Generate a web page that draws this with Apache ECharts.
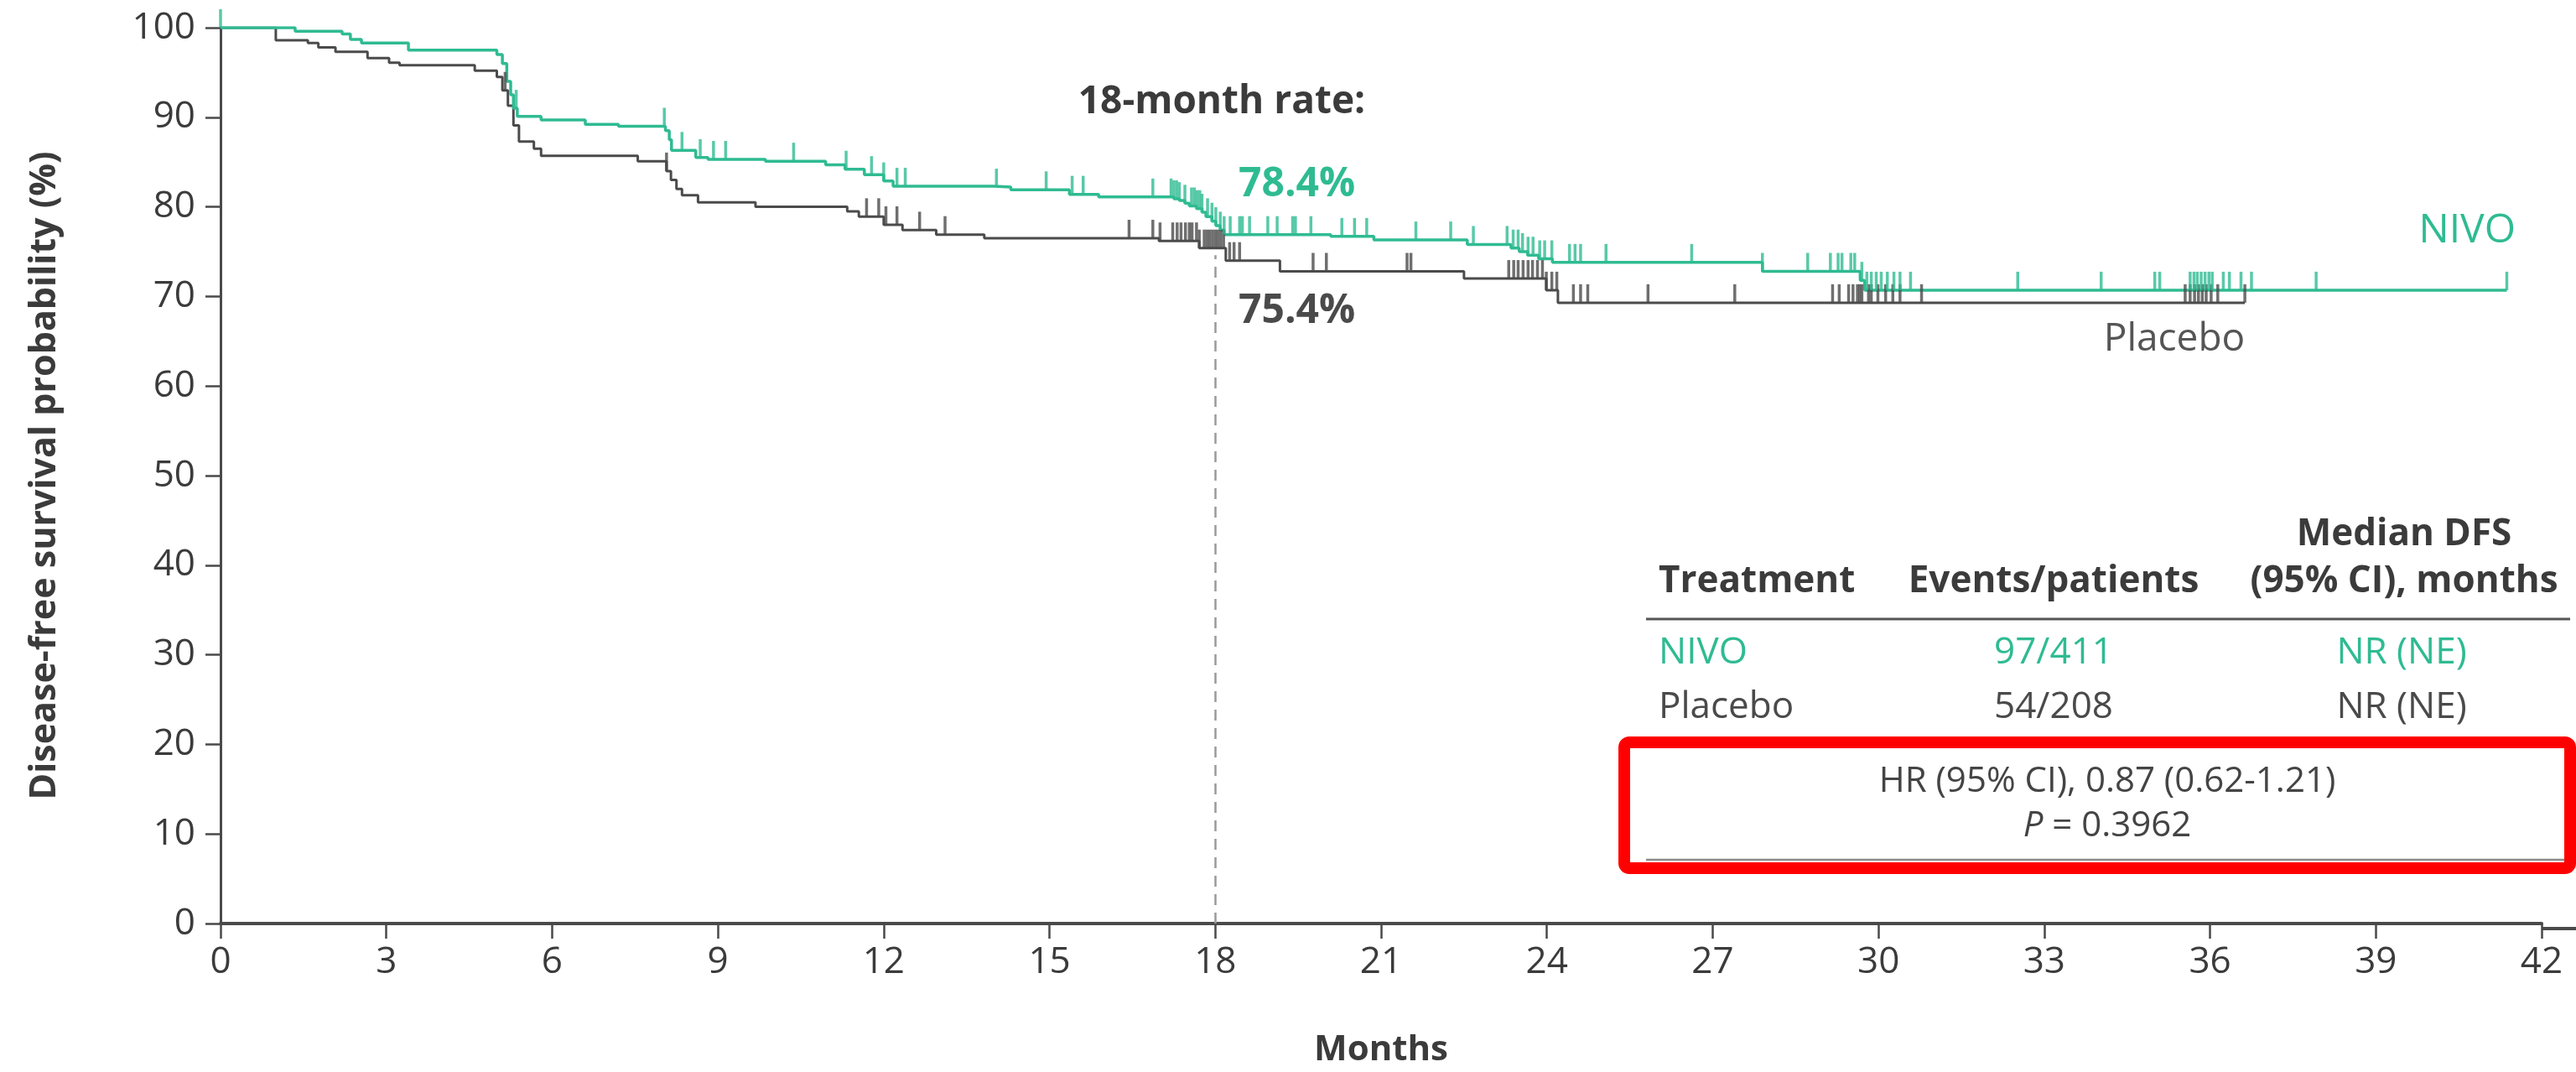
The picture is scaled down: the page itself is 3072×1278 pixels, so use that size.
<!DOCTYPE html>
<html>
<head>
<meta charset="utf-8">
<script src="https://cdn.jsdelivr.net/npm/echarts@6/dist/echarts.min.js"></script>
<style>
html,body{margin:0;padding:0;background:#ffffff;}
#chart{width:3072px;height:1278px;}
</style>
</head>
<body>
<div id="chart"></div>
<script>
// ---------------- DATA ----------------
const xTicks = [0, 3, 6, 9, 12, 15, 18, 21, 24, 27, 30, 33, 36, 39, 42];
const yTicks = [0, 10, 20, 30, 40, 50, 60, 70, 80, 90, 100];

// Kaplan-Meier steps: [month, survival % after the step]
const nivoSteps = [
  [0,100],[1.35,99.6],[2.2,99.3],[2.35,98.7],[2.55,98.3],[3.4,97.5],[5.0,97.0],[5.1,96.0],
  [5.18,94.0],[5.25,92.5],[5.3,91.0],[5.37,90.1],[5.8,89.7],[6.6,89.2],[7.2,89.0],[8.05,88.5],
  [8.12,87.5],[8.16,86.3],[8.6,85.5],[8.82,85.3],[9.86,85.1],[10.95,84.7],[11.3,84.2],[11.65,83.6],
  [12.0,82.9],[12.17,82.3],[14.0,82.2],[14.3,81.9],[15.36,81.4],[15.89,81.1],[17.25,80.9],[17.35,80.7],
  [17.45,80.4],[17.53,80.1],[17.66,79.8],[17.76,79.4],[17.83,78.9],[17.94,78.4],[18.01,77.9],[18.09,77.4],
  [18.16,76.9],[20.09,76.7],[20.87,76.3],[22.56,75.8],[23.35,75.4],[23.5,75.0],[23.65,74.6],[23.85,74.2],
  [24.1,73.8],[27.9,72.8],[29.67,71.8],[29.75,70.7],[41.37,70.7]
];
const placeboSteps = [
  [0,100],[1.0,98.6],[1.58,98.3],[1.77,97.8],[2.08,97.3],[2.66,96.6],[3.05,96.1],[3.24,95.8],
  [4.6,95.2],[5.0,94.5],[5.1,93.0],[5.2,91.3],[5.3,89.1],[5.4,87.3],[5.67,86.5],[5.8,85.7],
  [7.55,85.1],[8.07,84.0],[8.15,83.0],[8.25,82.0],[8.35,81.3],[8.64,80.5],[9.68,80.0],[11.34,79.5],
  [11.55,78.9],[12.0,78.0],[12.34,77.4],[12.95,76.9],[13.82,76.5],[16.98,76.2],[17.71,75.4],[18.19,74.0],
  [19.17,72.8],[22.5,72.0],[23.99,70.7],[24.2,69.3],[36.63,69.3]
];

// censoring times (months)
const nivoCensor = [
  0, 5.35, 8.03, 8.35, 8.68, 8.92, 9.14, 10.37, 11.32, 11.78, 12.0, 12.24, 12.39, 14.04, 14.94,
  15.41, 15.61, 16.87, 17.2, 17.25, 17.3, 17.35, 17.45, 17.57, 17.62, 17.67, 17.72, 17.76, 17.86,
  17.94, 18.01, 18.09, 18.16, 18.27, 18.44, 18.49, 18.62, 18.95, 19.12, 19.4, 19.45, 19.73, 20.29,
  20.52, 20.74, 21.63, 22.26, 22.67, 23.28, 23.39, 23.48, 23.56, 23.66, 23.75, 23.87, 23.96, 24.09,
  24.41, 24.51, 24.61, 25.07, 26.62, 27.9, 28.72, 29.13, 29.27, 29.34, 29.5, 29.57, 29.7, 29.79,
  29.87, 29.96, 30.05, 30.16, 30.28, 30.39, 30.58, 32.52, 34.03, 35.0, 35.09, 35.64, 35.71, 35.77,
  35.84, 35.91, 35.98, 36.04, 36.24, 36.35, 36.56, 36.75, 37.92, 41.37
];
const placeboCensor = [
  5.15, 8.07, 11.69, 11.91, 12.04, 12.24, 12.65, 13.11, 16.44, 16.87, 17.0, 17.23, 17.31, 17.38,
  17.46, 17.53, 17.58, 17.66, 17.71, 17.8, 17.85, 17.9, 17.95, 18.0, 18.05, 18.1, 18.15, 18.26,
  18.34, 18.44, 19.77, 20.01, 21.47, 21.54, 23.31, 23.4, 23.48, 23.57, 23.66, 23.74, 23.83, 23.92,
  23.99, 24.09, 24.18, 24.48, 24.61, 24.74, 25.83, 27.4, 29.17, 29.29, 29.46, 29.54, 29.62, 29.66,
  29.7, 29.82, 29.87, 29.99, 30.13, 30.26, 30.39, 30.78, 35.55, 35.64, 35.72, 35.79, 35.86, 35.93,
  36.02, 36.14, 36.63
];

const seriesNames = ['NIVO', 'Placebo'];
const landmarkMonth = 18;
const landmarkTop = 74.6;
const rate18 = ['78.4%', '75.4%'];
const rateTitle = '18-month rate:';
const tableHeader = ['Treatment', 'Events/patients', 'Median DFS', '(95% CI), months'];
const tableRows = [['NIVO', '97/411', 'NR (NE)'], ['Placebo', '54/208', 'NR (NE)']];
const hrText = 'HR (95% CI), 0.87 (0.62-1.21)';
const pText = '0.3962';

// ---------------- STYLE ----------------
const GREEN = '#2fbb92';
const GREY = '#4b4b4b';
const TXT = '#3b3b3b';
const FONT = "'Open Sans', 'Lato', 'DejaVu Sans', sans-serif";

function survivalAt(steps, t) {
  let v = steps[0][1];
  for (const s of steps) { if (s[0] <= t + 1e-9) v = s[1]; else break; }
  return v;
}

function txt(text, x, y, align, size, weight, color, extra) {
  return Object.assign({
    type: 'text', z: 100,
    style: {
      text: text, x: x, y: y,
      align: align, textAlign: align, verticalAlign: 'middle', textVerticalAlign: 'middle',
      fontSize: size, fontWeight: weight, fontFamily: FONT, fill: color
    }
  }, extra || {});
}
function hline(x1, x2, y, w, color) {
  return { type: 'line', z: 100, shape: { x1: x1, y1: y, x2: x2, y2: y }, style: { stroke: color, lineWidth: w } };
}

const chart = echarts.init(document.getElementById('chart'), null, { renderer: 'canvas' });

const censorSymbol = { symbol: 'rect', symbolSize: [3.5, 22], symbolOffset: [0, -11] };

const option = {
  animation: false,
  backgroundColor: '#ffffff',
  grid: { left: 263, right: 41, top: 33, bottom: 171, containLabel: false },
  xAxis: {
    type: 'value', min: xTicks[0], max: xTicks[xTicks.length - 1], interval: xTicks[1] - xTicks[0],
    name: 'Months', nameLocation: 'middle', nameGap: 130,
    nameTextStyle: { fontFamily: FONT, fontWeight: 'bold', fontSize: 42, color: TXT },
    axisLine: { show: true, onZero: false, lineStyle: { color: '#4a4a4a', width: 4 } },
    axisTick: { show: true, length: 18, lineStyle: { color: '#4a4a4a', width: 2.5 } },
    axisLabel: { fontFamily: FONT, fontSize: 44, color: TXT, margin: 24 },
    splitLine: { show: false }
  },
  yAxis: {
    type: 'value', min: yTicks[0], max: yTicks[yTicks.length - 1], interval: yTicks[1] - yTicks[0],
    name: 'Disease-free survival probability (%)', nameLocation: 'middle', nameGap: 188, nameRotate: 90,
    nameTextStyle: { fontFamily: FONT, fontWeight: 'bold', fontSize: 43, color: TXT },
    axisLine: { show: true, onZero: false, lineStyle: { color: '#4a4a4a', width: 3 } },
    axisTick: { show: true, length: 18, lineStyle: { color: '#4a4a4a', width: 2.5 } },
    axisLabel: { fontFamily: FONT, fontSize: 44, color: TXT, margin: 30 },
    splitLine: { show: false }
  },
  series: [
    {
      name: seriesNames[1], type: 'line', step: 'end', showSymbol: false, z: 3,
      data: placeboSteps, lineStyle: { color: GREY, width: 3 }, itemStyle: { color: GREY },
      markLine: {
        silent: true, symbol: 'none', label: { show: false },
        lineStyle: { type: [13, 9], color: '#9a9a9a', width: 2.5 },
        data: [[{ coord: [landmarkMonth, 0] }, { coord: [landmarkMonth, landmarkTop] }]]
      }
    },
    {
      name: seriesNames[0], type: 'line', step: 'end', showSymbol: false, z: 4,
      data: nivoSteps, lineStyle: { color: GREEN, width: 3.5 }, itemStyle: { color: GREEN }
    },
    Object.assign({
      name: seriesNames[1] + ' censored', type: 'scatter', z: 5,
      data: placeboCensor.map(t => [t, survivalAt(placeboSteps, t)]),
      itemStyle: { color: GREY }
    }, censorSymbol),
    Object.assign({
      name: seriesNames[0] + ' censored', type: 'scatter', z: 6,
      data: nivoCensor.map(t => [t, survivalAt(nivoSteps, t)]),
      itemStyle: { color: GREEN }
    }, censorSymbol)
  ],
  graphic: { elements: [
    // x axis line extension to the right edge
    hline(3031, 3072, 1107, 4, '#4a4a4a'),
    // annotations
    txt(rateTitle, 1457, 122, 'center', 46, 'bold', TXT),
    txt(rate18[0], 1477, 220, 'left', 48, 'bold', GREEN),
    txt(rate18[1], 1477, 371, 'left', 48, 'bold', '#4a4a4a'),
    txt(seriesNames[0], 3000, 275, 'right', 48, 'normal', GREEN),
    txt(seriesNames[1], 2593, 405, 'center', 46, 'normal', '#555555'),
    // table
    txt(tableHeader[2], 2867, 637, 'center', 44, 'bold', TXT),
    txt(tableHeader[0], 1978, 693, 'left', 44, 'bold', TXT),
    txt(tableHeader[1], 2449, 693, 'center', 44, 'bold', TXT),
    txt(tableHeader[3], 2867, 693, 'center', 44, 'bold', TXT),
    hline(1963, 3065, 738, 3, '#555555'),
    txt(tableRows[0][0], 1978, 778, 'left', 44, 'normal', GREEN),
    txt(tableRows[0][1], 2449, 778, 'center', 44, 'normal', GREEN),
    txt(tableRows[0][2], 2864, 778, 'center', 44, 'normal', GREEN),
    txt(tableRows[1][0], 1978, 843, 'left', 44, 'normal', '#4a4a4a'),
    txt(tableRows[1][1], 2449, 843, 'center', 44, 'normal', '#4a4a4a'),
    txt(tableRows[1][2], 2864, 843, 'center', 44, 'normal', '#4a4a4a'),
    txt(hrText, 2513, 932, 'center', 42, 'normal', '#444444'),
    {
      type: 'text', z: 100,
      style: {
        text: '{i|P} = ' + pText, x: 2513, y: 985,
        align: 'center', textAlign: 'center', verticalAlign: 'middle', textVerticalAlign: 'middle',
        fontSize: 42, fontFamily: FONT, fill: '#444444',
        rich: { i: { fontStyle: 'italic', fontSize: 42, fontFamily: FONT, fill: '#444444' } }
      }
    },
    hline(1963, 3065, 1025, 2.5, '#8a8a8a'),
    {
      type: 'rect', z: 101,
      shape: { x: 1937, y: 885, width: 1128, height: 150, r: 6 },
      style: { fill: 'rgba(0,0,0,0)', stroke: '#ff0000', lineWidth: 14 }
    }
  ] }
};

chart.setOption(option);
</script>
</body>
</html>
